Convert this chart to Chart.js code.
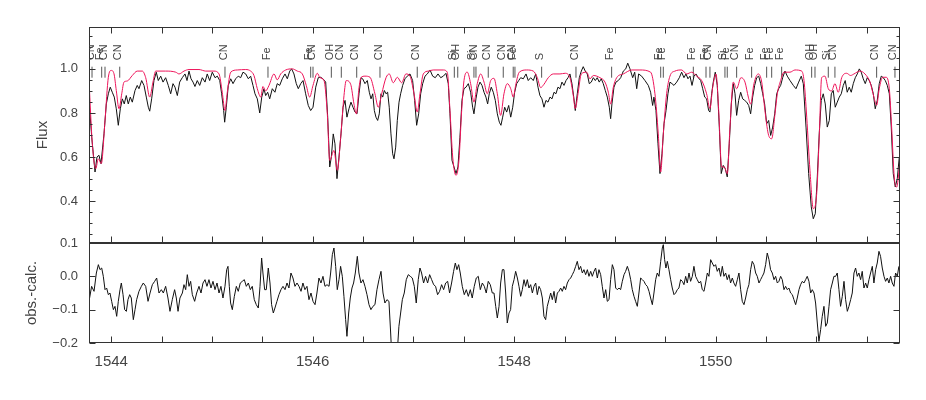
<!DOCTYPE html>
<html>
<head>
<meta charset="utf-8">
<script src="https://cdn.jsdelivr.net/npm/chart.js@4"></script>
<style>
  body { margin: 0; background: #fff; }
  #wrap { position: relative; width: 926px; height: 400px; }
  canvas { position: absolute; left: 0; top: 0; }
</style>
</head>
<body>
<div id="wrap">
  <canvas id="flux_chart" width="926" height="400"></canvas>
  <canvas id="resid_chart" width="926" height="400"></canvas>
</div>
<script>
// wavelength range (nm) and tick labels
const xMin = 1543.779;
const xMax = 1551.831;
const xTicks = [1544, 1546, 1548, 1550];
const fluxTicks = [0.4, 0.6, 0.8, 1.0];
const residTicks = [-0.2, -0.1, 0.0, 0.1];

// synthetic spectrum (red)
const calcWave = [1543.779,1543.812,1543.846,1543.871,1543.901,1543.938,1543.971,1544.000,1544.027,1544.050,1544.077,1544.104,1544.126,1544.159,1544.209,1544.258,1544.308,1544.342,1544.382,1544.414,1544.441,1544.540,1544.640,1544.673,1544.722,1544.772,1544.871,1544.938,1545.020,1545.070,1545.102,1545.129,1545.152,1545.186,1545.251,1545.335,1545.384,1545.417,1545.450,1545.484,1545.506,1545.533,1545.566,1545.616,1545.648,1545.682,1545.732,1545.797,1545.847,1545.897,1545.936,1545.970,1546.003,1546.046,1546.072,1546.112,1546.145,1546.169,1546.211,1546.244,1546.278,1546.311,1546.333,1546.377,1546.410,1546.433,1546.460,1546.479,1546.519,1546.569,1546.618,1546.651,1546.685,1546.728,1546.760,1546.800,1546.840,1546.883,1546.926,1546.966,1547.006,1547.038,1547.065,1547.098,1547.148,1547.197,1547.297,1547.336,1547.363,1547.390,1547.423,1547.452,1547.479,1547.502,1547.535,1547.568,1547.601,1547.634,1547.668,1547.701,1547.733,1547.767,1547.800,1547.833,1547.866,1547.899,1547.932,1547.966,1547.991,1548.018,1548.051,1548.125,1548.190,1548.230,1548.263,1548.296,1548.339,1548.389,1548.455,1548.505,1548.554,1548.587,1548.607,1548.634,1548.667,1548.720,1548.753,1548.786,1548.852,1548.902,1548.935,1548.958,1548.984,1549.018,1549.084,1549.170,1549.249,1549.355,1549.398,1549.431,1549.455,1549.481,1549.514,1549.547,1549.597,1549.663,1549.713,1549.763,1549.812,1549.862,1549.911,1549.944,1549.971,1550.004,1550.031,1550.060,1550.086,1550.116,1550.143,1550.176,1550.209,1550.252,1550.292,1550.325,1550.348,1550.381,1550.424,1550.458,1550.490,1550.523,1550.557,1550.590,1550.613,1550.646,1550.679,1550.739,1550.788,1550.855,1550.878,1550.905,1550.937,1550.970,1551.004,1551.029,1551.053,1551.086,1551.119,1551.152,1551.185,1551.218,1551.252,1551.301,1551.341,1551.374,1551.433,1551.483,1551.533,1551.572,1551.599,1551.625,1551.659,1551.692,1551.725,1551.748,1551.774,1551.798,1551.831];
const calcFlux = [0.947,0.66,0.547,0.592,0.570,0.766,0.962,0.993,0.978,0.902,0.819,0.887,0.94,0.945,0.97,0.99,0.99,0.96,0.872,0.94,0.99,0.99,0.985,0.977,0.99,0.997,0.997,0.99,0.99,0.977,0.894,0.811,0.894,0.985,0.995,0.997,0.99,0.97,0.91,0.872,0.92,0.90,0.925,0.977,0.95,0.977,0.995,1.0,0.99,0.977,0.925,0.872,0.925,0.98,0.96,0.947,0.796,0.585,0.63,0.54,0.69,0.88,0.947,0.93,0.84,0.796,0.915,0.96,0.967,0.962,0.887,0.826,0.887,0.96,0.977,0.937,0.962,0.937,0.977,0.967,0.887,0.804,0.887,0.977,0.99,0.995,0.995,0.985,0.811,0.60,0.517,0.585,0.811,0.947,0.985,0.933,0.849,0.933,0.977,0.94,0.887,0.947,0.957,0.887,0.789,0.887,0.933,0.91,0.872,0.933,0.985,0.995,0.99,0.96,0.915,0.93,0.96,0.977,0.977,0.98,0.96,0.88,0.82,0.887,0.977,0.985,0.955,0.97,0.96,0.94,0.894,0.84,0.915,0.96,0.977,0.995,0.995,0.985,0.887,0.705,0.532,0.705,0.887,0.967,0.99,0.995,0.977,0.985,0.967,0.947,0.887,0.82,0.915,0.977,0.811,0.555,0.555,0.524,0.736,0.94,0.91,0.96,0.94,0.872,0.84,0.933,0.977,0.94,0.811,0.705,0.683,0.796,0.887,0.947,0.985,0.985,0.995,0.99,0.947,0.781,0.54,0.366,0.434,0.69,0.96,0.967,0.91,0.90,0.933,0.894,0.96,0.98,0.97,0.977,0.99,0.977,0.94,0.872,0.835,0.91,0.962,0.962,0.91,0.736,0.509,0.464,0.585];

// observed spectrum (black)
const obsWave = [1543.779,1543.806,1543.839,1543.858,1543.878,1543.898,1543.928,1543.951,1543.971,1543.990,1544.010,1544.030,1544.050,1544.070,1544.090,1544.110,1544.129,1544.149,1544.169,1544.189,1544.209,1544.236,1544.258,1544.275,1544.302,1544.325,1544.348,1544.368,1544.382,1544.401,1544.424,1544.447,1544.467,1544.491,1544.514,1544.540,1544.566,1544.590,1544.613,1544.633,1544.656,1544.679,1544.705,1544.732,1544.752,1544.772,1544.792,1544.812,1544.831,1544.854,1544.878,1544.904,1544.931,1544.953,1544.977,1545.003,1545.030,1545.053,1545.077,1545.096,1545.116,1545.126,1545.142,1545.162,1545.186,1545.209,1545.235,1545.261,1545.285,1545.308,1545.335,1545.361,1545.384,1545.407,1545.427,1545.450,1545.474,1545.494,1545.516,1545.533,1545.553,1545.573,1545.599,1545.625,1545.648,1545.672,1545.698,1545.725,1545.748,1545.772,1545.791,1545.814,1545.837,1545.857,1545.881,1545.904,1545.930,1545.956,1545.980,1546.003,1546.030,1546.055,1546.079,1546.102,1546.129,1546.149,1546.169,1546.185,1546.204,1546.221,1546.241,1546.261,1546.281,1546.301,1546.321,1546.340,1546.360,1546.380,1546.400,1546.420,1546.440,1546.460,1546.479,1546.496,1546.519,1546.542,1546.562,1546.579,1546.596,1546.612,1546.628,1546.645,1546.661,1546.678,1546.695,1546.711,1546.728,1546.744,1546.760,1546.777,1546.794,1546.807,1546.824,1546.840,1546.857,1546.873,1546.893,1546.916,1546.939,1546.966,1546.992,1547.012,1547.032,1547.052,1547.072,1547.092,1547.115,1547.138,1547.165,1547.191,1547.217,1547.244,1547.271,1547.297,1547.323,1547.346,1547.363,1547.383,1547.403,1547.423,1547.442,1547.462,1547.482,1547.502,1547.522,1547.545,1547.568,1547.588,1547.601,1547.621,1547.641,1547.661,1547.681,1547.701,1547.720,1547.737,1547.753,1547.773,1547.793,1547.813,1547.833,1547.853,1547.869,1547.886,1547.906,1547.926,1547.946,1547.966,1547.986,1548.005,1548.025,1548.045,1548.065,1548.091,1548.118,1548.140,1548.164,1548.190,1548.214,1548.237,1548.256,1548.276,1548.296,1548.316,1548.336,1548.356,1548.376,1548.396,1548.415,1548.435,1548.455,1548.475,1548.495,1548.515,1548.535,1548.554,1548.574,1548.594,1548.607,1548.627,1548.647,1548.667,1548.686,1548.706,1548.726,1548.746,1548.766,1548.786,1548.806,1548.825,1548.845,1548.865,1548.885,1548.905,1548.925,1548.945,1548.958,1548.971,1548.991,1549.011,1549.034,1549.058,1549.084,1549.108,1549.128,1549.150,1549.177,1549.197,1549.217,1549.236,1549.266,1549.299,1549.332,1549.355,1549.375,1549.388,1549.408,1549.428,1549.448,1549.468,1549.488,1549.508,1549.527,1549.547,1549.567,1549.587,1549.614,1549.640,1549.663,1549.686,1549.706,1549.726,1549.746,1549.766,1549.786,1549.805,1549.828,1549.852,1549.872,1549.892,1549.911,1549.931,1549.944,1549.961,1549.977,1549.997,1550.017,1550.037,1550.056,1550.076,1550.096,1550.116,1550.136,1550.156,1550.176,1550.193,1550.209,1550.229,1550.249,1550.269,1550.289,1550.309,1550.329,1550.348,1550.368,1550.388,1550.408,1550.428,1550.448,1550.468,1550.487,1550.507,1550.527,1550.547,1550.567,1550.587,1550.607,1550.626,1550.646,1550.666,1550.689,1550.712,1550.739,1550.772,1550.798,1550.825,1550.851,1550.871,1550.898,1550.924,1550.950,1550.970,1550.990,1551.010,1551.029,1551.049,1551.069,1551.089,1551.109,1551.129,1551.149,1551.168,1551.188,1551.208,1551.228,1551.248,1551.268,1551.287,1551.307,1551.327,1551.347,1551.367,1551.387,1551.407,1551.427,1551.446,1551.466,1551.486,1551.506,1551.526,1551.546,1551.566,1551.585,1551.605,1551.625,1551.645,1551.665,1551.685,1551.705,1551.725,1551.744,1551.764,1551.784,1551.804,1551.824];
const obsFlux = [0.857,0.69,0.532,0.60,0.608,0.57,0.705,0.841,0.887,0.917,0.894,0.872,0.819,0.744,0.819,0.864,0.841,0.879,0.841,0.872,0.849,0.902,0.925,0.91,0.947,0.925,0.872,0.826,0.808,0.864,0.947,0.985,0.947,0.967,0.94,0.96,0.925,0.887,0.933,0.917,0.879,0.94,0.96,0.977,0.947,0.99,0.955,0.94,0.92,0.947,0.925,0.96,0.94,0.977,0.947,0.985,0.96,0.967,0.947,0.887,0.811,0.758,0.826,0.925,0.955,0.933,0.955,0.967,0.96,0.985,0.977,0.955,0.967,0.925,0.887,0.864,0.80,0.872,0.91,0.879,0.894,0.864,0.91,0.894,0.933,0.925,0.955,0.977,0.955,0.99,1.0,0.977,0.933,0.91,0.933,0.947,0.887,0.834,0.811,0.826,0.917,0.96,0.962,0.955,0.94,0.781,0.555,0.60,0.705,0.66,0.502,0.60,0.705,0.826,0.857,0.781,0.819,0.849,0.826,0.804,0.796,0.887,0.96,0.955,0.933,0.947,0.894,0.864,0.887,0.811,0.781,0.766,0.796,0.887,0.872,0.902,0.887,0.894,0.826,0.705,0.615,0.592,0.645,0.766,0.849,0.887,0.925,0.955,0.967,0.977,0.947,0.857,0.744,0.796,0.887,0.933,0.967,0.977,0.995,0.967,0.96,0.977,0.96,0.967,0.98,0.933,0.796,0.585,0.555,0.525,0.555,0.69,0.857,0.91,0.917,0.933,0.894,0.826,0.796,0.864,0.917,0.94,0.925,0.894,0.872,0.841,0.887,0.917,0.894,0.857,0.796,0.758,0.744,0.781,0.826,0.804,0.834,0.781,0.826,0.894,0.933,0.947,0.96,0.955,0.977,0.947,0.96,0.947,0.977,0.917,0.879,0.864,0.826,0.857,0.849,0.872,0.864,0.894,0.887,0.917,0.91,0.94,0.925,0.947,0.96,0.977,0.933,0.864,0.811,0.887,0.96,0.99,1.01,0.99,0.977,0.933,0.94,0.96,0.947,0.96,0.94,0.955,0.933,0.902,0.872,0.826,0.774,0.841,0.917,0.94,0.947,0.96,0.99,1.0,1.026,1.0,0.96,0.985,0.91,0.977,0.967,0.947,0.925,0.894,0.834,0.872,0.811,0.66,0.525,0.615,0.751,0.811,0.887,0.94,0.933,0.925,0.94,0.96,0.985,0.96,0.977,0.955,0.967,0.925,0.967,0.977,0.96,0.947,0.91,0.872,0.864,0.811,0.804,0.887,0.94,0.985,0.925,0.736,0.525,0.562,0.547,0.51,0.66,0.841,0.933,0.887,0.789,0.857,0.894,0.864,0.857,0.849,0.834,0.796,0.872,0.925,0.96,0.967,0.933,0.887,0.841,0.751,0.766,0.698,0.736,0.796,0.887,0.91,0.925,0.96,0.99,0.967,0.947,0.925,0.91,0.94,0.967,0.933,0.736,0.525,0.374,0.32,0.343,0.51,0.705,0.857,0.887,0.841,0.736,0.766,0.887,0.902,0.826,0.849,0.872,0.887,0.925,0.947,0.894,0.917,0.894,0.933,0.96,0.977,1.0,0.985,0.955,0.933,0.96,0.947,0.925,0.887,0.819,0.857,0.933,0.967,0.96,0.947,0.925,0.887,0.736,0.525,0.464,0.502,0.60];

// residuals obs.-calc.
const residWave = [1543.779,1543.805,1543.829,1543.852,1543.872,1543.888,1543.905,1543.921,1543.938,1543.954,1543.971,1543.987,1544.004,1544.021,1544.037,1544.054,1544.070,1544.087,1544.100,1544.117,1544.133,1544.150,1544.166,1544.183,1544.199,1544.219,1544.236,1544.252,1544.275,1544.299,1544.318,1544.342,1544.365,1544.385,1544.408,1544.431,1544.451,1544.474,1544.497,1544.517,1544.540,1544.563,1544.583,1544.606,1544.629,1544.646,1544.663,1544.682,1544.706,1544.722,1544.739,1544.755,1544.772,1544.788,1544.805,1544.828,1544.848,1544.871,1544.891,1544.911,1544.931,1544.950,1544.970,1544.990,1545.010,1545.030,1545.050,1545.070,1545.089,1545.109,1545.129,1545.146,1545.159,1545.172,1545.185,1545.202,1545.222,1545.242,1545.261,1545.281,1545.301,1545.321,1545.341,1545.361,1545.381,1545.400,1545.420,1545.440,1545.460,1545.477,1545.493,1545.506,1545.523,1545.539,1545.559,1545.576,1545.592,1545.609,1545.625,1545.645,1545.665,1545.685,1545.705,1545.725,1545.745,1545.764,1545.784,1545.804,1545.824,1545.844,1545.864,1545.884,1545.903,1545.923,1545.943,1545.963,1545.983,1546.003,1546.023,1546.042,1546.062,1546.082,1546.102,1546.122,1546.142,1546.162,1546.178,1546.195,1546.211,1546.228,1546.244,1546.261,1546.277,1546.294,1546.310,1546.327,1546.340,1546.357,1546.373,1546.390,1546.406,1546.423,1546.443,1546.459,1546.479,1546.499,1546.519,1546.539,1546.559,1546.578,1546.598,1546.618,1546.638,1546.658,1546.678,1546.698,1546.717,1546.737,1546.757,1546.774,1546.795,1546.815,1546.835,1546.856,1546.873,1546.890,1546.909,1546.929,1546.949,1546.969,1546.989,1547.009,1547.028,1547.048,1547.065,1547.081,1547.101,1547.121,1547.141,1547.161,1547.181,1547.201,1547.220,1547.240,1547.260,1547.280,1547.300,1547.320,1547.340,1547.359,1547.379,1547.399,1547.416,1547.432,1547.449,1547.465,1547.485,1547.505,1547.525,1547.545,1547.565,1547.584,1547.604,1547.624,1547.644,1547.664,1547.684,1547.704,1547.723,1547.743,1547.763,1547.783,1547.800,1547.817,1547.833,1547.850,1547.866,1547.883,1547.899,1547.916,1547.932,1547.949,1547.965,1547.982,1547.999,1548.015,1548.032,1548.048,1548.065,1548.081,1548.098,1548.114,1548.131,1548.147,1548.164,1548.181,1548.197,1548.214,1548.230,1548.247,1548.263,1548.280,1548.296,1548.313,1548.329,1548.346,1548.363,1548.379,1548.396,1548.412,1548.429,1548.445,1548.462,1548.478,1548.495,1548.511,1548.528,1548.545,1548.561,1548.578,1548.594,1548.611,1548.627,1548.644,1548.660,1548.677,1548.693,1548.710,1548.727,1548.743,1548.760,1548.776,1548.793,1548.809,1548.826,1548.842,1548.859,1548.875,1548.892,1548.909,1548.925,1548.942,1548.958,1548.975,1548.991,1549.008,1549.024,1549.041,1549.057,1549.074,1549.091,1549.107,1549.124,1549.140,1549.157,1549.173,1549.190,1549.206,1549.223,1549.239,1549.256,1549.273,1549.289,1549.306,1549.322,1549.339,1549.355,1549.372,1549.388,1549.405,1549.421,1549.438,1549.455,1549.471,1549.481,1549.494,1549.507,1549.521,1549.537,1549.554,1549.570,1549.587,1549.603,1549.620,1549.636,1549.653,1549.670,1549.686,1549.703,1549.719,1549.736,1549.752,1549.769,1549.785,1549.802,1549.818,1549.835,1549.852,1549.868,1549.885,1549.901,1549.918,1549.934,1549.951,1549.967,1549.984,1550.000,1550.017,1550.034,1550.050,1550.067,1550.083,1550.100,1550.116,1550.133,1550.149,1550.166,1550.182,1550.199,1550.216,1550.232,1550.249,1550.265,1550.282,1550.298,1550.315,1550.331,1550.348,1550.364,1550.381,1550.398,1550.414,1550.431,1550.447,1550.464,1550.480,1550.497,1550.513,1550.530,1550.546,1550.563,1550.580,1550.596,1550.613,1550.629,1550.646,1550.662,1550.679,1550.695,1550.712,1550.728,1550.745,1550.762,1550.778,1550.795,1550.811,1550.828,1550.844,1550.861,1550.877,1550.894,1550.910,1550.927,1550.944,1550.960,1550.977,1550.993,1551.010,1551.026,1551.043,1551.059,1551.076,1551.093,1551.109,1551.126,1551.142,1551.159,1551.175,1551.192,1551.208,1551.225,1551.241,1551.258,1551.275,1551.291,1551.308,1551.324,1551.341,1551.357,1551.374,1551.390,1551.407,1551.423,1551.440,1551.456,1551.473,1551.490,1551.506,1551.523,1551.539,1551.556,1551.572,1551.589,1551.605,1551.622,1551.638,1551.655,1551.672,1551.688,1551.705,1551.721,1551.738,1551.754,1551.771,1551.787,1551.804,1551.820];
const residVal = [-0.075,-0.03,-0.045,0.01,0.035,0.02,0.025,0.0,-0.04,-0.035,-0.055,-0.05,-0.075,-0.1,-0.09,-0.12,-0.075,-0.04,-0.02,-0.055,-0.1,-0.105,-0.07,-0.055,-0.065,-0.13,-0.1,-0.07,-0.045,-0.03,-0.02,-0.03,-0.075,-0.05,-0.025,-0.015,-0.005,-0.05,-0.04,-0.05,-0.03,-0.065,-0.105,-0.07,-0.04,-0.065,-0.105,-0.065,-0.05,-0.025,-0.04,0.005,-0.03,-0.015,-0.055,-0.075,-0.05,-0.03,-0.05,-0.02,-0.01,-0.03,-0.01,-0.035,-0.015,-0.04,-0.02,-0.05,-0.03,-0.065,-0.03,0.02,0.03,-0.03,-0.08,-0.1,-0.06,-0.03,-0.045,-0.02,-0.015,-0.01,-0.03,-0.02,-0.04,-0.03,-0.07,-0.085,-0.095,-0.03,0.055,0.01,-0.04,-0.04,0.025,-0.02,-0.085,-0.11,-0.095,-0.075,-0.055,-0.04,-0.03,-0.04,-0.02,-0.035,0.01,-0.005,-0.03,-0.02,-0.03,-0.045,-0.02,-0.04,-0.03,-0.07,-0.05,-0.075,-0.085,-0.05,-0.005,-0.02,0.0,-0.03,-0.025,-0.03,0.01,0.065,0.085,0.03,-0.04,-0.01,0.03,0.0,-0.06,-0.13,-0.18,-0.11,-0.065,-0.035,-0.02,0.01,0.06,0.01,-0.02,-0.01,-0.03,-0.055,-0.085,-0.1,-0.09,-0.085,-0.04,-0.01,0.015,-0.05,-0.08,-0.07,-0.075,-0.17,-0.30,-0.34,-0.25,-0.15,-0.11,-0.07,-0.05,-0.01,0.005,0.0,-0.005,-0.03,-0.08,-0.01,0.025,0.01,-0.02,0.0,-0.02,0.005,-0.01,-0.025,-0.03,-0.055,-0.045,-0.025,-0.04,-0.02,-0.015,-0.05,-0.02,0.015,0.04,0.02,0.035,0.01,-0.03,-0.055,-0.04,-0.06,-0.04,-0.065,-0.03,-0.005,0.0,-0.04,-0.02,-0.03,-0.05,-0.015,-0.025,-0.05,-0.05,-0.09,-0.125,-0.09,-0.02,0.02,0.02,-0.05,-0.14,-0.11,-0.1,-0.03,-0.01,0.015,-0.005,-0.03,-0.06,-0.04,-0.01,-0.03,-0.01,-0.035,-0.025,-0.05,-0.03,-0.02,-0.055,-0.03,-0.04,-0.065,-0.12,-0.13,-0.09,-0.07,-0.05,-0.07,-0.045,-0.08,-0.05,-0.045,-0.035,-0.045,-0.03,-0.04,-0.02,-0.01,-0.005,0.005,0.015,0.03,0.045,0.02,0.03,0.01,0.02,0.005,0.02,0.0,0.015,0.0,0.015,0.025,-0.005,0.02,0.005,-0.03,-0.065,-0.04,-0.075,-0.07,-0.01,0.035,0.02,-0.035,-0.04,-0.035,-0.04,-0.015,0.005,0.015,0.03,0.015,-0.01,-0.04,-0.06,-0.075,-0.09,-0.05,-0.005,-0.01,-0.015,-0.025,-0.03,-0.045,-0.065,-0.085,-0.05,-0.01,0.01,0.0,0.045,0.085,0.095,0.05,0.025,0.045,0.02,-0.01,-0.035,-0.055,-0.05,-0.04,-0.035,-0.01,-0.015,-0.025,0.0,-0.02,0.01,-0.015,0.0,0.03,0.0,-0.01,-0.02,-0.015,-0.04,-0.045,-0.02,0.01,0.0,0.05,0.04,0.03,0.035,0.015,0.025,0.0,0.03,0.0,0.01,-0.01,0.005,-0.02,-0.005,-0.02,-0.03,-0.01,0.01,-0.04,-0.075,-0.085,-0.065,-0.04,-0.025,0.02,0.045,0.035,0.01,0.0,-0.02,-0.01,0.0,0.01,0.035,0.07,0.05,0.02,0.01,-0.01,0.0,-0.02,-0.015,0.0,-0.01,-0.04,-0.03,-0.04,-0.035,-0.05,-0.055,-0.07,-0.085,-0.065,-0.04,-0.025,-0.015,-0.02,-0.01,0.0,-0.015,-0.05,-0.04,-0.05,-0.08,-0.14,-0.195,-0.16,-0.12,-0.09,-0.15,-0.14,-0.09,-0.04,-0.02,0.0,0.0,0.01,-0.04,-0.09,-0.06,-0.015,-0.07,-0.105,-0.09,-0.07,-0.05,0.01,0.025,0.0,0.01,-0.01,0.015,-0.035,-0.02,-0.035,-0.01,0.01,0.03,-0.02,0.02,0.04,0.075,0.06,0.025,0.0,-0.015,-0.005,-0.02,0.0,-0.02,-0.03,0.01,0.0,0.03];

// identified lines
const lineWave = [1543.809,1543.905,1543.938,1544.084,1545.129,1545.556,1545.980,1546.003,1546.185,1546.284,1546.437,1546.668,1547.038,1547.406,1547.440,1547.601,1547.621,1547.743,1547.892,1547.991,1548.008,1548.273,1548.614,1548.968,1549.455,1549.481,1549.779,1549.905,1549.944,1550.093,1550.116,1550.209,1550.358,1550.507,1550.557,1550.656,1550.954,1550.987,1551.119,1551.185,1551.599,1551.781];
const lineName = ['CN','Fe','CN','CN','CN','Fe','Fe','CN','OH','CN','CN','CN','CN','Si','OH','Si','CN','CN','CN','CN','Fe','S','CN','Fe','Fe','Fe','Fe','Fe','CN','Si','Fe','CN','Fe','Fe','Fe','Fe','OH','OH','Si','CN','CN','CN'];

const FONT = '"Liberation Sans", Arial, sans-serif';
const TXT = '#444';
const RED = 'rgb(238,20,90)';

function fmt(v) {
    return v.toFixed(1).replace('-', '\u2212');
}

function pairs(xs, ys) {
    return xs.map((x, i) => ({x: x, y: ys[i]}));
}

// short vertical markers under the line labels
const markData = [];
lineWave.forEach(w => {
    markData.push({x: w, y: 0.96}, {x: w, y: 1.01}, {x: w, y: null});
});

// box round the plot area with inward tick marks
const framePlugin = {
    id: 'frame',
    afterDatasetsDraw(chart, args, opts) {
        const ctx = chart.ctx, a = chart.chartArea;
        const xs = chart.scales.x, ys = chart.scales.y;
        const L = Math.round(a.left) + 0.5, R = Math.round(a.right) - 0.5;
        const T = Math.round(a.top) + 0.5, B = Math.round(a.bottom) - 0.5;
        ctx.save();
        ctx.strokeStyle = '#333';
        ctx.lineWidth = 1;
        ctx.strokeRect(L, T, R - L, B - T);
        ctx.beginPath();
        for (let v = Math.ceil(xs.min / 0.5) * 0.5; v <= xs.max; v += 0.5) {
            const p = Math.round(xs.getPixelForValue(v)) + 0.5;
            if (opts.topTicks) { ctx.moveTo(p, T); ctx.lineTo(p, T + 6); }
            ctx.moveTo(p, B); ctx.lineTo(p, B - 6);
        }
        const step = opts.yMinor || opts.yMajor;
        for (let i = Math.ceil(ys.min / step - 1e-6); i * step <= ys.max + 1e-9; i++) {
            const v = i * step;
            const r = v / opts.yMajor;
            const len = Math.abs(r - Math.round(r)) < 1e-6 ? 6 : 3;
            const p = Math.round(ys.getPixelForValue(v)) + 0.5;
            ctx.moveTo(L, p); ctx.lineTo(L + len, p);
            ctx.moveTo(R, p); ctx.lineTo(R - len, p);
        }
        ctx.stroke();
        ctx.restore();
    }
};

// rotated element names above the markers
const lineLabelPlugin = {
    id: 'lineLabels',
    afterDatasetsDraw(chart) {
        const ctx = chart.ctx, a = chart.chartArea;
        const xs = chart.scales.x, ys = chart.scales.y;
        const y0 = ys.getPixelForValue(1.039);
        ctx.save();
        ctx.beginPath();
        ctx.rect(a.left, a.top, a.right - a.left, a.bottom - a.top);
        ctx.clip();
        ctx.font = '11px ' + FONT;
        ctx.fillStyle = TXT;
        ctx.textAlign = 'left';
        ctx.textBaseline = 'middle';
        lineWave.forEach((w, i) => {
            ctx.save();
            ctx.translate(xs.getPixelForValue(w) - 1.5, y0);
            ctx.rotate(-Math.PI / 2);
            ctx.fillText(lineName[i], 0, 0);
            ctx.restore();
        });
        ctx.restore();
    }
};

const fluxChart = new Chart(document.getElementById('flux_chart'), {
    type: 'line',
    data: {
        datasets: [
            { label: 'calc', data: pairs(calcWave, calcFlux), borderColor: RED, borderWidth: 1,
              pointRadius: 0, cubicInterpolationMode: 'monotone' },
            { label: 'obs', data: pairs(obsWave, obsFlux), borderColor: '#111', borderWidth: 1,
              pointRadius: 0, tension: 0 },
            { label: 'lines', data: markData, borderColor: '#555', borderWidth: 1, pointRadius: 0 }
        ]
    },
    options: {
        responsive: false,
        animation: false,
        devicePixelRatio: 1,
        layout: { padding: { top: 27, right: 26, bottom: 157, left: 0 }, autoPadding: false },
        plugins: {
            legend: { display: false },
            tooltip: { enabled: false },
            frame: { topTicks: true, yMajor: 0.2, yMinor: 0.05 }
        },
        scales: {
            x: { type: 'linear', min: xMin, max: xMax, display: false },
            y: {
                min: 0.21, max: 1.19,
                afterFit: s => { s.width = 89; },
                afterBuildTicks: s => { s.ticks = fluxTicks.map(v => ({value: v})); },
                grid: { display: false, drawTicks: false },
                border: { display: false },
                ticks: { padding: 11, color: TXT, font: { size: 13, family: FONT }, callback: fmt },
                title: { display: true, text: 'Flux', color: TXT, font: { size: 15, family: FONT },
                         padding: { top: 34, bottom: 0 } }
            }
        }
    },
    plugins: [framePlugin, lineLabelPlugin]
});

const residChart = new Chart(document.getElementById('resid_chart'), {
    type: 'line',
    data: {
        datasets: [
            { label: 'obs.-calc.', data: pairs(residWave, residVal), borderColor: '#111', borderWidth: 1,
              pointRadius: 0, tension: 0 }
        ]
    },
    options: {
        responsive: false,
        animation: false,
        devicePixelRatio: 1,
        layout: { padding: { top: 243, right: 26, bottom: 0, left: 0 }, autoPadding: false },
        plugins: {
            legend: { display: false },
            tooltip: { enabled: false },
            frame: { topTicks: false, yMajor: 0.1 }
        },
        scales: {
            x: {
                type: 'linear', min: xMin, max: xMax,
                afterFit: s => { s.height = 57; },
                afterBuildTicks: s => { s.ticks = xTicks.map(v => ({value: v})); },
                grid: { display: false, drawTicks: false },
                border: { display: false },
                ticks: { padding: 10, color: TXT, font: { size: 15, family: FONT }, autoSkip: false,
                         maxRotation: 0, callback: v => String(v) }
            },
            y: {
                min: -0.2, max: 0.1,
                afterFit: s => { s.width = 89; },
                afterBuildTicks: s => { s.ticks = residTicks.map(v => ({value: v})); },
                grid: { display: false, drawTicks: false },
                border: { display: false },
                ticks: { padding: 11, color: TXT, font: { size: 13, family: FONT }, callback: fmt },
                title: { display: true, text: 'obs.-calc.', color: TXT, font: { size: 15, family: FONT },
                         padding: { top: 23, bottom: 0 } }
            }
        }
    },
    plugins: [framePlugin]
});
</script>
</body>
</html>
